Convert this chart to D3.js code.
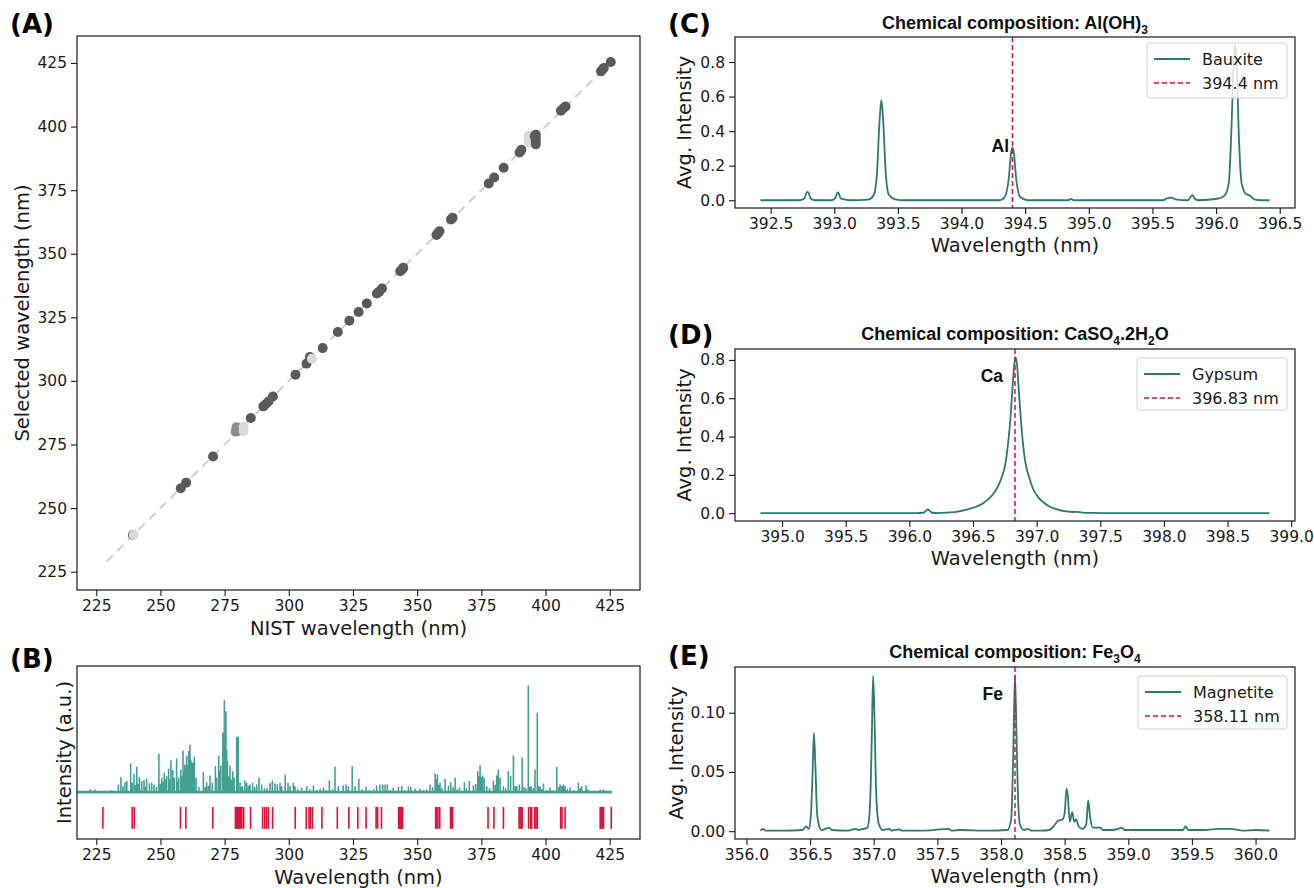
<!DOCTYPE html>
<html><head><meta charset="utf-8">
<script src="https://cdn.jsdelivr.net/npm/d3@7"></script>
<style>body{margin:0;background:#fff;} svg{display:block;}</style>
</head><body><svg id="fig" width="1314" height="888"></svg>
<script>
// ---------------- DATA ----------------
// Panel A: NIST vs selected wavelengths (nm); tone 0 dark, 1 mid, 2 light
const aNist = [239.3,239.6,257.9,260.0,270.5,279.3,279.6,280.3,281.0,282.4,282.4,285.2,290.1,291.0,292.1,293.8,302.6,306.9,308.2,309.0,313.2,319.1,323.6,327.2,330.4,334.3,335.2,336.3,343.4,344.1,344.6,357.5,358.1,358.7,363.2,363.8,377.9,380.0,383.7,389.9,390.6,393.4,393.4,393.4,396.2,396.2,396.2,396.2,395.8,406.0,407.0,407.8,421.6,422.3,422.7,425.4];
const aSelected = [239.4,239.4,257.8,260.0,270.3,280.0,281.8,280.3,281.5,280.3,281.8,285.4,290.0,290.8,291.9,293.9,302.4,306.8,309.4,308.7,312.9,319.2,323.7,327.1,330.4,334.4,335.1,336.3,343.1,343.8,344.5,357.4,358.1,358.8,363.5,364.1,377.6,380.0,383.8,389.8,390.9,393.6,395.2,396.4,393.0,394.4,395.6,396.8,396.2,406.2,407.2,407.9,421.7,422.5,423.0,425.4];
const aTone = [0,2,0,0,0,1,1,1,1,2,2,0,0,0,0,0,0,0,0,2,0,0,0,0,0,0,0,0,0,0,0,0,0,0,0,0,0,0,0,0,0,2,2,2,0,0,0,0,0,0,0,0,0,0,0,0];
const aIdentity = [229, 425];
const wlTicks = [225,250,275,300,325,350,375,400,425];

// Panel B: reference line positions and averaged spectrum peaks (normalised)
const bLines = [227.6,239.0,239.8,257.8,259.9,270.4,279.2,279.6,280.0,280.3,280.7,281.2,281.7,282.4,285.1,289.8,290.6,291.3,292.0,293.7,302.5,306.8,307.9,308.4,309.2,312.9,318.9,323.4,326.9,330.1,334.0,334.6,336.1,342.8,343.2,343.6,344.0,344.3,357.2,357.6,358.1,358.8,363.0,363.4,363.8,377.6,379.9,383.6,389.7,390.1,390.5,390.9,393.4,394.2,394.6,395.8,396.3,396.8,405.9,406.4,407.6,421.3,421.7,422.2,422.6,425.6];
const bPeakWave = [222.6,224.5,231.0,233.6,234.6,235.4,236.2,236.9,238.4,239.0,239.7,240.3,240.8,241.3,241.8,242.7,243.6,244.1,244.6,245.7,246.6,247.5,248.4,249.4,250.0,250.5,251.0,251.5,252.0,252.4,253.2,253.7,254.1,254.8,255.4,256.3,256.7,257.1,257.9,258.4,258.8,259.2,259.5,259.9,260.2,260.6,261.0,261.5,261.9,262.2,262.6,263.2,263.9,265.0,266.7,267.4,268.0,268.7,269.3,270.2,271.4,271.9,272.7,273.1,273.5,274.3,274.9,275.2,275.5,275.8,276.1,276.6,277.1,277.6,278.2,278.7,279.7,280.3,281.0,281.5,282.0,282.9,283.6,284.3,284.9,285.9,286.7,287.5,288.4,289.4,290.5,291.5,292.7,293.6,294.6,295.5,296.6,297.2,298.6,299.7,300.5,301.8,302.4,303.5,305.0,307.0,308.2,309.6,311.0,312.2,313.5,314.5,315.8,317.0,318.0,319.3,321.2,322.3,323.2,324.7,325.8,327.3,328.5,330.1,331.5,333.0,334.2,335.5,336.6,337.5,338.4,339.5,340.7,342.7,344.0,345.2,346.6,347.5,349.2,351.1,352.5,353.7,355.0,356.0,357.0,357.4,357.9,358.4,358.9,359.6,360.9,362.2,363.1,364.0,364.8,365.6,366.5,368.4,369.2,370.3,371.9,372.8,373.6,374.1,374.5,375.0,375.4,376.1,377.1,378.2,379.7,380.4,381.0,381.6,382.3,383.6,384.5,385.5,386.4,387.5,388.2,388.8,389.8,390.9,391.6,392.4,393.3,393.8,394.4,395.2,395.9,396.8,397.3,397.9,398.5,399.2,400.5,401.8,403.0,404.4,405.2,405.7,406.4,407.0,407.6,408.5,409.6,411.0,412.8,413.5,414.1,415.8,416.5,418.7,421.3,422.6];
const bPeakInt = [0.028,0.028,0.02,0.075,0.143,0.06,0.096,0.106,0.271,0.09,0.174,0.07,0.240,0.08,0.143,0.106,0.115,0.05,0.128,0.084,0.090,0.075,0.05,0.361,0.08,0.137,0.10,0.184,0.12,0.153,0.221,0.12,0.302,0.209,0.137,0.315,0.10,0.137,0.215,0.15,0.393,0.20,0.262,0.22,0.340,0.25,0.386,0.445,0.30,0.277,0.277,0.333,0.137,0.05,0.190,0.05,0.096,0.06,0.159,0.090,0.246,0.137,0.346,0.20,0.252,0.558,0.860,0.70,0.760,0.40,0.293,0.15,0.252,0.12,0.199,0.137,0.520,0.520,0.096,0.05,0.059,0.112,0.090,0.06,0.075,0.090,0.05,0.075,0.137,0.075,0.04,0.04,0.090,0.112,0.084,0.075,0.090,0.059,0.165,0.090,0.059,0.090,0.059,0.03,0.044,0.059,0.03,0.065,0.025,0.034,0.044,0.02,0.112,0.03,0.240,0.059,0.065,0.075,0.059,0.246,0.059,0.128,0.03,0.053,0.02,0.03,0.065,0.075,0.075,0.075,0.075,0.02,0.044,0.053,0.059,0.02,0.053,0.053,0.034,0.034,0.02,0.028,0.075,0.05,0.178,0.12,0.168,0.07,0.090,0.04,0.128,0.065,0.096,0.05,0.137,0.03,0.044,0.096,0.04,0.106,0.065,0.08,0.199,0.15,0.252,0.14,0.159,0.137,0.059,0.04,0.106,0.07,0.159,0.215,0.137,0.059,0.04,0.199,0.153,0.346,0.06,0.059,0.075,0.324,0.05,0.04,1.0,0.05,0.059,0.04,0.215,0.745,0.06,0.053,0.03,0.084,0.02,0.044,0.02,0.240,0.05,0.075,0.06,0.075,0.059,0.03,0.044,0.02,0.090,0.04,0.059,0.065,0.03,0.01,0.028,0.028];
const bRange = [217.6, 425.8];

// Panel C: Bauxite spectrum [wavelength, avg intensity]
const cSpectrum = [[392.42,0],[392.72,0],[392.765,0.01],[392.78,0.04],[392.79,0.05],[392.80,0.04],[392.815,0.01],[392.85,0],[392.98,0],[393.01,0.015],[393.025,0.045],[393.035,0.04],[393.05,0.01],[393.08,0.005],[393.12,0],[393.27,0.004],[393.31,0.03],[393.335,0.15],[393.355,0.45],[393.37,0.58],[393.385,0.45],[393.405,0.15],[393.43,0.03],[393.48,0.005],[393.55,0],[394.30,0],[394.34,0.02],[394.37,0.12],[394.39,0.28],[394.40,0.305],[394.41,0.28],[394.43,0.12],[394.46,0.02],[394.52,0],[394.84,0],[394.86,0.008],[394.88,0],[395.58,0],[395.62,0.012],[395.65,0.015],[395.68,0.005],[395.78,0],[395.80,0.02],[395.815,0.03],[395.83,0.01],[395.86,0],[396.02,0.01],[396.07,0.03],[396.10,0.1],[396.12,0.4],[396.14,0.82],[396.15,0.90],[396.16,0.82],[396.18,0.35],[396.20,0.1],[396.23,0.04],[396.27,0.025],[396.30,0.005],[396.35,0],[396.42,0]];
// Panel D: Gypsum spectrum
const dSpectrum = [[394.83,0],[395.5,0],[396.05,0],[396.11,0.002],[396.13,0.012],[396.145,0.02],[396.16,0.012],[396.18,0.002],[396.22,0],[396.30,0.003],[396.38,0.008],[396.45,0.018],[396.52,0.032],[396.58,0.052],[396.63,0.078],[396.67,0.11],[396.70,0.145],[396.73,0.195],[396.755,0.26],[396.775,0.36],[396.795,0.50],[396.81,0.65],[396.825,0.78],[396.835,0.815],[396.845,0.78],[396.86,0.64],[396.875,0.50],[396.89,0.38],[396.91,0.27],[396.94,0.19],[396.97,0.13],[397.01,0.085],[397.05,0.058],[397.10,0.035],[397.16,0.02],[397.22,0.01],[397.28,0.006],[397.31,0.007],[397.36,0.003],[397.45,0.001],[397.6,0],[398.83,0]];
// Panel E: Magnetite spectrum
const eSpectrum = [[356.11,0.0005],[356.13,0.002],[356.15,0.0005],[356.30,0.0005],[356.44,0.001],[356.47,0.004],[356.49,0.002],[356.505,0.012],[356.52,0.05],[356.53,0.083],[356.54,0.06],[356.555,0.015],[356.57,0.005],[356.59,0.001],[356.62,0.002],[356.65,0.003],[356.67,0.001],[356.80,0.0005],[356.86,0.002],[356.88,0.001],[356.92,0.002],[356.95,0.003],[356.97,0.02],[356.985,0.08],[356.995,0.131],[357.005,0.1],[357.02,0.03],[357.04,0.006],[357.07,0.001],[357.12,0.002],[357.14,0.0005],[357.20,0.0015],[357.22,0.0005],[357.4,0.0005],[357.59,0.002],[357.61,0.0005],[357.67,0.001],[357.9,0.0005],[358.05,0.001],[358.08,0.01],[358.095,0.06],[358.11,0.132],[358.12,0.09],[358.135,0.025],[358.15,0.005],[358.18,0.001],[358.21,0.002],[358.24,0.0005],[358.32,0.0005],[358.38,0.001],[358.42,0.005],[358.45,0.009],[358.48,0.0095],[358.50,0.015],[358.515,0.036],[358.525,0.03],[358.54,0.008],[358.56,0.016],[358.575,0.008],[358.59,0.010],[358.61,0.004],[358.64,0.002],[358.67,0.006],[358.685,0.026],[358.70,0.012],[358.72,0.003],[358.75,0.003],[358.78,0.003],[358.80,0.001],[358.88,0.001],[358.92,0.002],[358.95,0.003],[358.97,0.001],[359.12,0.001],[359.25,0.001],[359.43,0.001],[359.45,0.004],[359.47,0.001],[359.6,0.001],[359.71,0.002],[359.8,0.002],[359.9,0.0005],[360.0,0.001],[360.11,0.0005]];

const cTicksX = [392.5,393.0,393.5,394.0,394.5,395.0,395.5,396.0,396.5];
const dTicksX = [395.0,395.5,396.0,396.5,397.0,397.5,398.0,398.5,399.0];
const eTicksX = [356.0,356.5,357.0,357.5,358.0,358.5,359.0,359.5,360.0];
const cdTicksY = [0.0,0.2,0.4,0.6,0.8];
const eTicksY = [0.00,0.05,0.10];

const minerals = ["Bauxite","Gypsum","Magnetite"];
const elements = ["Al","Ca","Fe"];
const lineNm = [394.4, 396.83, 358.11];
const lineLabels = ["394.4 nm","396.83 nm","358.11 nm"];
const titles = [
  [["Chemical composition: Al(OH)",0],["3",1]],
  [["Chemical composition: CaSO",0],["4",1],[".2H",0],["2",1],["O",0]],
  [["Chemical composition: Fe",0],["3",1],["O",0],["4",1]]
];

// ---------------- DRAWING ----------------
const svg = d3.select('#fig');
const TF = "'DejaVu Sans', sans-serif";
const BF = "'Liberation Sans', Arial, sans-serif";
const TEAL = '#2f7a6e', TEAL_B = '#45a091', RED = '#dc143c';
const INK = '#1a1a1a';
const TICK_SIZE = 15.5;

function styleAxis(g) {
  g.select('.domain').remove();
  g.selectAll('.tick line').attr('stroke', INK).attr('stroke-width', 1.1);
  g.selectAll('.tick text').attr('font-family', TF).attr('font-size', TICK_SIZE).attr('fill', INK);
}
function frame(b) {
  svg.append('rect').attr('x', b.l).attr('y', b.t).attr('width', b.r - b.l).attr('height', b.b - b.t)
    .attr('fill', 'none').attr('stroke', INK).attr('stroke-width', 1.2);
}
function xAxis(b, x, ticks, fmt) {
  const g = svg.append('g').attr('transform', `translate(0,${b.b})`)
    .call(d3.axisBottom(x).tickValues(ticks).tickFormat(fmt).tickSize(6).tickPadding(4));
  styleAxis(g);
}
function yAxis(b, y, ticks, fmt) {
  const g = svg.append('g').attr('transform', `translate(${b.l},0)`)
    .call(d3.axisLeft(y).tickValues(ticks).tickFormat(fmt).tickSize(6).tickPadding(4));
  styleAxis(g);
}
function xLabel(b, text, dy) {
  svg.append('text').attr('x', (b.l + b.r) / 2).attr('y', b.b + dy).attr('text-anchor', 'middle')
    .attr('font-family', TF).attr('font-size', 19.5).attr('fill', INK).text(text);
}
function yLabel(cx, b, text) {
  svg.append('text').attr('transform', `translate(${cx},${(b.t + b.b) / 2}) rotate(-90)`)
    .attr('text-anchor', 'middle').attr('dy', '0.35em')
    .attr('font-family', TF).attr('font-size', 19.5).attr('fill', INK).text(text);
}
function panelTag(x, y, t) {
  svg.append('text').attr('x', x).attr('y', y).attr('font-family', TF).attr('font-weight', 'bold')
    .attr('font-size', 26).attr('fill', '#000').text(t);
}

// ---- Panel A ----
const bA = {l: 77, r: 640, t: 36, b: 590};
const xA = d3.scaleLinear().domain([217.5, 436.8]).range([bA.l, bA.r]);
const yA = d3.scaleLinear().domain([217.8, 435.6]).range([bA.b, bA.t]);
svg.append('line').attr('x1', xA(aIdentity[0])).attr('y1', yA(aIdentity[0]))
  .attr('x2', xA(aIdentity[1])).attr('y2', yA(aIdentity[1]))
  .attr('stroke', '#cfcfcf').attr('stroke-width', 2).attr('stroke-dasharray', '9,6');
const toneCol = ['#5a5a5a', '#8e8e8e', '#dadada'];
const aPts = aNist.map((v, i) => ({x: v, y: aSelected[i], t: aTone[i]}));
svg.append('g').selectAll('circle').data(aPts).join('circle')
  .attr('cx', d => xA(d.x)).attr('cy', d => yA(d.y)).attr('r', 5)
  .attr('fill', d => toneCol[d.t]);
frame(bA);
xAxis(bA, xA, wlTicks, d3.format('d'));
yAxis(bA, yA, wlTicks, d3.format('d'));
xLabel(bA, 'NIST wavelength (nm)', 45);
yLabel(22, bA, 'Selected wavelength (nm)');
panelTag(10, 33, '(A)');

// ---- Panel B ----
const bB = {l: 77, r: 640, t: 666, b: 839};
const xB = d3.scaleLinear().domain([217.5, 436.8]).range([bB.l, bB.r]);
const yB = d3.scaleLinear().domain([-0.43, 1.187]).range([bB.b, bB.t]);
const base = 0.008;
const stickPts = [[bRange[0], base]];
bPeakWave.forEach((w, i) => { stickPts.push([w, base], [w, bPeakInt[i]], [w, base]); });
stickPts.push([bRange[1], base]);
svg.append('path').datum(stickPts)
  .attr('d', d3.line().x(d => xB(d[0])).y(d => yB(d[1])))
  .attr('fill', 'none').attr('stroke', TEAL_B).attr('stroke-width', 1.6).attr('stroke-linejoin', 'round');
svg.append('line').attr('x1', xB(bRange[0])).attr('x2', xB(bRange[1]))
  .attr('y1', yB(base)).attr('y2', yB(base)).attr('stroke', TEAL_B).attr('stroke-width', 2.8);
svg.append('g').selectAll('line').data(bLines).join('line')
  .attr('x1', d => xB(d)).attr('x2', d => xB(d)).attr('y1', yB(-0.13)).attr('y2', yB(-0.335))
  .attr('stroke', RED).attr('stroke-width', 1.6);
frame(bB);
xAxis(bB, xB, wlTicks, d3.format('d'));
xLabel(bB, 'Wavelength (nm)', 45);
yLabel(64, bB, 'Intensity (a.u.)');
panelTag(10, 668, '(B)');

// ---- Panels C, D, E ----
const specPanels = [
  {b: {l: 735, r: 1295, t: 37, b: 208}, xd: [392.22, 396.62], yd: [-0.045, 0.945], data: cSpectrum,
   xt: cTicksX, yt: cdTicksY, yf: d3.format('.1f'), tag: '(C)', tagY: 33, titleY: 29, ylx: 684,
   lab: {x: 1009, y: 152}, leg: {x: 1147, y: 43, w: 140, h: 55}},
  {b: {l: 735, r: 1295, t: 349, b: 521}, xd: [394.63, 399.03], yd: [-0.041, 0.857], data: dSpectrum,
   xt: dTicksX, yt: cdTicksY, yf: d3.format('.1f'), tag: '(D)', tagY: 344, titleY: 340, ylx: 684,
   lab: {x: 1003, y: 382}, leg: {x: 1137, y: 358, w: 150, h: 52}},
  {b: {l: 735, r: 1295, t: 667, b: 839}, xd: [355.91, 360.31], yd: [-0.0066, 0.1386], data: eSpectrum,
   xt: eTicksX, yt: eTicksY, yf: d3.format('.2f'), tag: '(E)', tagY: 665, titleY: 658, ylx: 676,
   lab: {x: 1003, y: 700}, leg: {x: 1138, y: 676, w: 149, h: 53}}
];

specPanels.forEach((p, i) => {
  const b = p.b;
  const x = d3.scaleLinear().domain(p.xd).range([b.l, b.r]);
  const y = d3.scaleLinear().domain(p.yd).range([b.b, b.t]);
  svg.append('path').datum(p.data)
    .attr('d', d3.line().x(d => x(d[0])).y(d => y(d[1])).curve(d3.curveMonotoneX))
    .attr('fill', 'none').attr('stroke', TEAL).attr('stroke-width', 1.8);
  svg.append('line').attr('x1', x(lineNm[i])).attr('x2', x(lineNm[i])).attr('y1', b.t).attr('y2', b.b)
    .attr('stroke', RED).attr('stroke-width', 1.5).attr('stroke-dasharray', '5,3');
  svg.append('text').attr('x', p.lab.x).attr('y', p.lab.y).attr('text-anchor', 'end')
    .attr('font-family', BF).attr('font-weight', 'bold').attr('font-size', 17.5).attr('fill', '#111')
    .text(elements[i]);
  frame(b);
  xAxis(b, x, p.xt, d3.format('.1f'));
  yAxis(b, y, p.yt, p.yf);
  xLabel(b, 'Wavelength (nm)', 44);
  yLabel(p.ylx, b, 'Avg. Intensity');
  panelTag(668, p.tagY, p.tag);
  // title
  const tt = svg.append('text').attr('x', (b.l + b.r) / 2).attr('y', p.titleY).attr('text-anchor', 'middle')
    .attr('font-family', BF).attr('font-weight', 'bold').attr('font-size', 18).attr('fill', '#111');
  let shifted = false;
  titles[i].forEach(([s, sub]) => {
    const ts = tt.append('tspan').text(s);
    if (sub && !shifted) { ts.attr('dy', 5).attr('font-size', 12); shifted = true; }
    else if (sub) { ts.attr('font-size', 12); }
    else if (!sub && shifted) { ts.attr('dy', -5); shifted = false; }
  });
  // legend
  const L = p.leg;
  const lg = svg.append('g').attr('transform', `translate(${L.x},${L.y})`);
  lg.append('rect').attr('width', L.w).attr('height', L.h).attr('rx', 3)
    .attr('fill', '#fff').attr('fill-opacity', 0.8).attr('stroke', '#d0d0d0').attr('stroke-width', 1);
  const rows = [{t: minerals[i], c: TEAL, dash: null}, {t: lineLabels[i], c: RED, dash: '5,3'}];
  rows.forEach((r, k) => {
    const yy = 16 + k * 24;
    lg.append('line').attr('x1', 7).attr('x2', 43).attr('y1', yy).attr('y2', yy)
      .attr('stroke', r.c).attr('stroke-width', r.dash ? 1.5 : 2).attr('stroke-dasharray', r.dash);
    lg.append('text').attr('x', 55).attr('y', yy).attr('dy', '0.35em')
      .attr('font-family', TF).attr('font-size', 16).attr('fill', INK).text(r.t);
  });
});
</script>
</body></html>
